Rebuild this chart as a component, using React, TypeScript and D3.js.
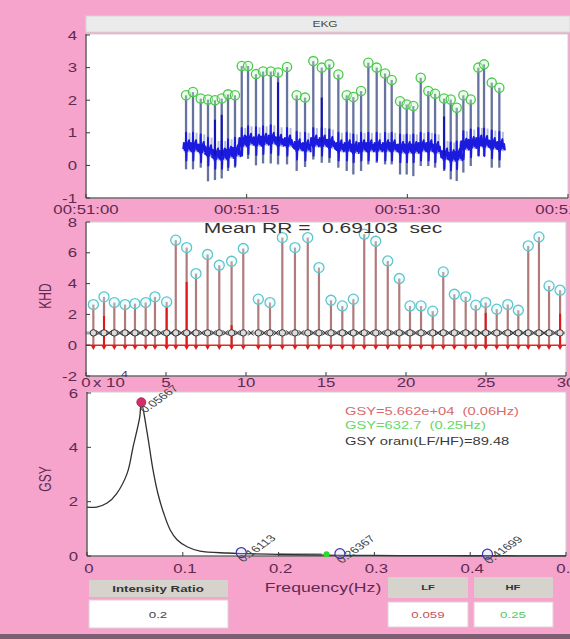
import React from "react";
import * as d3 from "d3";

// ---------- DATA ----------
// EKG: R-peak times (s after 00:51:00), R amplitudes, local baseline, S-dip depth
const ekgBeatTimes = [9.34,9.99,10.71,11.39,12.04,12.67,13.26,13.91,14.54,15.13,15.87,16.53,17.25,17.93,18.77,19.67,20.45,21.22,22.01,22.72,23.56,24.34,24.96,25.68,26.36,27.14,27.92,28.54,29.32,29.94,30.56,31.25,31.96,32.59,33.43,34.05,34.61,35.23,35.92,36.63,37.16,37.88,38.59];
const ekgRPeaks = [2.15,2.25,2.05,2.02,2.0,2.05,2.18,2.15,3.05,3.05,2.8,2.88,2.88,2.85,3.02,2.15,2.08,3.2,3.0,3.1,2.79,2.15,2.1,2.28,3.15,3.0,2.82,2.62,1.97,1.87,1.82,2.69,2.28,2.2,2.05,2.02,1.77,2.15,2.02,3.0,3.1,2.54,2.38];
const ekgBaseline = [0.55,0.55,0.5,0.4,0.3,0.3,0.35,0.4,0.7,0.75,0.72,0.75,0.78,0.72,0.7,0.58,0.55,0.7,0.7,0.65,0.55,0.55,0.5,0.55,0.55,0.55,0.55,0.55,0.5,0.5,0.5,0.55,0.55,0.5,0.3,0.25,0.28,0.6,0.65,0.7,0.68,0.62,0.58];
const ekgSDip = [-0.12,-0.12,-0.07,-0.49,-0.45,-0.4,-0.17,-0.07,0.29,0.2,0.0,0.06,0.06,0.03,0.03,-0.17,-0.05,0.18,0.08,0.08,-0.07,-0.17,-0.28,-0.17,0.03,0.08,0.03,0.03,-0.28,-0.28,-0.33,-0.02,-0.02,-0.07,-0.17,-0.43,-0.48,-0.22,-0.02,0.29,0.29,-0.07,-0.07];
const ekgDarkSpikeIdx = [4, 5, 13, 18, 34];
const ekgDarkSpikeTop = [1.4, 1.55, 2.55, 2.08, 1.5];
const ekgTickSecs = [0, 15, 30, 45];
const ekgTickLabels = ["00:51:00", "00:51:15", "00:51:30", "00:51:45"];
const ekgYTicks = [-1, 0, 1, 2, 3, 4];

// KHD (heart rate variability) stems
const khdTimes = [0.46,1.125,1.77,2.44,3.06,3.73,4.31,5.04,5.61,6.29,6.875,7.6,8.33,9.1,9.83,10.77,11.5,12.27,13.06,13.86,14.56,15.31,16.02,16.71,17.39,18.11,18.86,19.58,20.25,20.94,21.67,22.33,23.02,23.73,24.36,24.98,25.67,26.36,27.02,27.64,28.31,28.94,29.63];
const khdValues = [2.64,3.14,2.77,2.64,2.7,2.77,3.14,2.81,6.82,6.34,4.65,5.89,5.19,5.45,6.28,2.99,2.77,6.99,6.34,6.99,5.04,2.92,2.55,2.99,7.21,6.75,5.47,4.33,2.55,2.55,2.21,4.76,3.31,3.14,2.6,2.77,2.34,2.64,2.27,6.45,7.03,3.85,3.57];
const khdRedIdx = [1, 7, 9, 13, 35, 42];
const khdRedTop = [1.9, 2.45, 4.1, 1.3, 2.1, 2.05];
const khdRowLevel = 0.8;
const khdXTicks = [0, 5, 10, 15, 20, 25, 30];
const khdYTicks = [-2, 0, 2, 4, 6, 8];
const meanRR = "0.69103";

// GSY (power spectral density, x 10^4)
const gsyFreq = [0,0.01,0.021,0.031,0.042,0.048,0.055,0.0567,0.0625,0.069,0.074,0.08,0.087,0.094,0.105,0.118,0.146,0.16,0.2,0.25,0.3,0.35,0.4,0.45,0.5];
const gsyValue = [1.8,1.8,1.95,2.3,3.05,4.0,5.1,5.66,4.6,3.15,2.3,1.58,0.95,0.6,0.33,0.18,0.11,0.09,0.06,0.03,0.02,0.015,0.01,0.008,0.005];
const gsyPeak = { f: 0.0567, v: 5.66, label: "0.05667" };
const gsyMinFreqs = [0.161, 0.264, 0.418];
const gsyMinVals = [0.09, 0.05, 0.03];
const gsyMinLabels = ["0.16113", "0.26367", "0.41699"];
const gsyHFMark = { f: 0.25, v: 0.03 };
const gsyXTicks = [0, 0.1, 0.2, 0.3, 0.4, 0.5];
const gsyXTickLabels = ["0", "0.1", "0.2", "0.3", "0.4", "0.5"];
const gsyYTicks = [0, 2, 4, 6];
const gsyLegend = ["GSY=5.662e+04  (0.06Hz)", "GSY=632.7  (0.25Hz)", "GSY oranı(LF/HF)=89.48"];
const intensityRatio = "0.2";
const lfValue = "0.059";
const hfValue = "0.25";

// ---------- STYLE ----------
const PINK = "#f6a4cb";
const LBL = "#5e2a52";
const AX = "#3a3a3a";
const FONT = "'Liberation Sans', Arial, Helvetica, sans-serif";
const SX = 1.4;

function T(props: any) {
  const { x, y, size = 12, fill = LBL, anchor = "middle", rotate, weight, children } = props;
  return (
    <text
      transform={`translate(${x},${y}) scale(${SX},1)${rotate !== undefined ? ` rotate(${rotate})` : ""}`}
      fontSize={size}
      fill={fill}
      textAnchor={anchor}
      fontFamily={FONT}
      fontWeight={weight}
      style={{ whiteSpace: "pre" }}
    >
      {children}
    </text>
  );
}

export default function App() {
  const ekgX = d3.scaleLinear().domain([0, 45]).range([86, 568]);
  const ekgY = d3.scaleLinear().domain([-1, 4]).range([198, 35]);
  const khdX = d3.scaleLinear().domain([0, 30]).range([86, 566]);
  const khdY = d3.scaleLinear().domain([-2, 8]).range([376, 222]);
  const gsyX = d3.scaleLinear().domain([0, 0.5]).range([87, 566]);
  const gsyY = d3.scaleLinear().domain([0, 6]).range([556, 393]);

  // EKG baseline trace built per beat (P, Q, small R, S, T wave shape)
  const pts: [number, number][] = [];
  ekgBeatTimes.forEach((t, i) => {
    const b = ekgBaseline[i];
    const s = Math.max(ekgSDip[i], b - 0.4);
    pts.push([t - 0.26, b - 0.05], [t - 0.2, b + 0.14], [t - 0.14, b - 0.08], [t - 0.08, b + 0.06], [t - 0.03, b - 0.14], [t, b + 0.45],
      [t + 0.03, s], [t + 0.08, b + 0.05], [t + 0.14, b - 0.1], [t + 0.2, b + 0.14], [t + 0.28, b + 0.22], [t + 0.36, b - 0.06], [t + 0.44, b + 0.08], [t + 0.52, b - 0.12]);
  });
  const ekgLine = d3.line<[number, number]>().x(d => ekgX(d[0])).y(d => ekgY(d[1]));

  const gsyLine = d3.line<number>()
    .x((_, i) => gsyX(gsyFreq[i]))
    .y(d => gsyY(d))
    .curve(d3.curveCatmullRom.alpha(0.5));

  const panelBox = (x0: number, y0: number, x1: number, y1: number) => (
    <rect x={x0} y={y0} width={x1 - x0} height={y1 - y0} fill="#ffffff" stroke="#d0d0d0" strokeWidth={1} />
  );
  const axes = (x0: number, y0: number, x1: number, y1: number) => (
    <g stroke={AX} strokeWidth={1.1}>
      <line x1={x0} y1={y0} x2={x0} y2={y1} />
      <line x1={x0} y1={y1} x2={x1} y2={y1} />
    </g>
  );

  return (
    <svg width={570} height={639} style={{ position: "absolute", left: 0, top: 0 }}>
      <rect x={0} y={0} width={570} height={639} fill={PINK} />

      {/* ---------------- EKG ---------------- */}
      <rect x={86} y={16} width={484} height={16} fill="#ebebeb" stroke="#d6d6d6" />
      <T x={325} y={27} size={8.5} fill="#444">EKG</T>
      {panelBox(86, 34, 568, 198)}
      <g>
        {ekgBeatTimes.map((t, i) => (
          <line key={"g" + i} x1={ekgX(t + 0.33)} x2={ekgX(t + 0.33)}
            y1={ekgY(ekgBaseline[i] - 0.15)} y2={ekgY(ekgBaseline[i] + 0.45)}
            stroke="#b6bed8" strokeWidth={2} />
        ))}
        {ekgBeatTimes.map((t, i) => (
          <line key={"s" + i} x1={ekgX(t)} x2={ekgX(t)} y1={ekgY(ekgSDip[i])} y2={ekgY(ekgRPeaks[i])}
            stroke="#66729f" strokeWidth={2.3} />
        ))}
        <path d={ekgLine(pts) || ""} fill="none" stroke="#1b1be0" strokeWidth={2} strokeLinejoin="round" />
        {ekgDarkSpikeIdx.map((idx, k) => (
          <line key={"d" + k} x1={ekgX(ekgBeatTimes[idx])} x2={ekgX(ekgBeatTimes[idx])}
            y1={ekgY(ekgBaseline[idx])} y2={ekgY(ekgDarkSpikeTop[k])} stroke="#1414b8" strokeWidth={2} />
        ))}
        {ekgBeatTimes.map((t, i) => (
          <circle key={"c" + i} cx={ekgX(t)} cy={ekgY(ekgRPeaks[i])} r={4.6}
            fill="rgba(210,255,210,0.35)" stroke="#4cc84c" strokeWidth={1.3} />
        ))}
      </g>
      {axes(86, 34, 568, 198)}
      <g stroke={AX} strokeWidth={1}>
        {ekgYTicks.map(v => <line key={v} x1={86} x2={90} y1={ekgY(v)} y2={ekgY(v)} />)}
        {ekgTickSecs.map(s => <line key={s} x1={ekgX(s)} x2={ekgX(s)} y1={198} y2={194} />)}
      </g>
      {ekgYTicks.map(v => <T key={v} x={77} y={ekgY(v) + 4.5} anchor="end">{String(v)}</T>)}
      {ekgTickSecs.map((s, i) => <T key={s} x={ekgX(s)} y={214}>{ekgTickLabels[i]}</T>)}

      {/* ---------------- KHD ---------------- */}
      {panelBox(86, 222, 566, 376)}
      <g>
        {khdTimes.map((t, i) => (
          <line key={"st" + i} x1={khdX(t)} x2={khdX(t)} y1={khdY(0)} y2={khdY(khdValues[i])}
            stroke="#b07b7b" strokeWidth={2.2} />
        ))}
        {khdRedIdx.map((idx, k) => (
          <line key={"r" + k} x1={khdX(khdTimes[idx])} x2={khdX(khdTimes[idx])} y1={khdY(0)} y2={khdY(khdRedTop[k])}
            stroke="#e01818" strokeWidth={2} />
        ))}
        <line x1={khdX(khdTimes[0]) - 8} x2={khdX(khdTimes[khdTimes.length - 1]) + 5}
          y1={khdY(khdRowLevel)} y2={khdY(khdRowLevel)} stroke="#a4a4a4" strokeWidth={3} />
        {khdTimes.map((t, i) => (
          <circle key={"ro" + i} cx={khdX(t)} cy={khdY(khdRowLevel)} r={3.2} fill="#dcdcdc" stroke="#333" strokeWidth={1} />
        ))}
        {khdTimes.slice(0, -1).map((t, i) => {
          const mx = khdX((t + khdTimes[i + 1]) / 2);
          const my = khdY(khdRowLevel);
          return (
            <path key={"x" + i} d={`M${mx - 2.6},${my - 2.6}L${mx + 2.6},${my + 2.6}M${mx - 2.6},${my + 2.6}L${mx + 2.6},${my - 2.6}`}
              stroke="#333" strokeWidth={1} />
          );
        })}
        <line x1={86} x2={566} y1={khdY(0)} y2={khdY(0)} stroke="#e02828" strokeWidth={1.6} />
        {khdTimes.map((t, i) => {
          const cx = khdX(t), cy = khdY(-0.15);
          return <path key={"tr" + i} d={`M${cx - 2.5},${cy - 2}L${cx + 2.5},${cy - 2}L${cx},${cy + 2.5}Z`} fill="#e01818" />;
        })}
        {khdTimes.map((t, i) => (
          <circle key={"cy" + i} cx={khdX(t)} cy={khdY(khdValues[i])} r={5}
            fill="rgba(220,250,250,0.3)" stroke="#5cc6cc" strokeWidth={1.3} />
        ))}
      </g>
      {axes(86, 222, 566, 376)}
      <g stroke={AX} strokeWidth={1}>
        {khdYTicks.map(v => <line key={v} x1={86} x2={90} y1={khdY(v)} y2={khdY(v)} />)}
        {khdXTicks.map(s => <line key={s} x1={khdX(s)} x2={khdX(s)} y1={376} y2={372} />)}
      </g>
      <T x={323} y={233} size={15} fill="#333">{`Mean RR =  ${meanRR}  sec`}</T>
      {khdYTicks.map(v => <T key={v} x={77} y={khdY(v) + 4.5} anchor="end">{String(v)}</T>)}
      {khdXTicks.map(s => <T key={s} x={khdX(s)} y={387}>{String(s)}</T>)}
      <T x={51} y={296} rotate={-90}>KHD</T>

      {/* ---------------- GSY ---------------- */}
      {panelBox(87, 392, 566, 556)}
      <line x1={gsyX(0.2)} x2={gsyX(0.245)} y1={554.5} y2={554.5} stroke="#a8a8a8" strokeWidth={3} />
      <path d={gsyLine(gsyValue) || ""} fill="none" stroke="#303030" strokeWidth={1.3} />
      {axes(87, 392, 566, 556)}
      <g stroke={AX} strokeWidth={1}>
        {gsyYTicks.map(v => <line key={v} x1={87} x2={91} y1={gsyY(v)} y2={gsyY(v)} />)}
        {gsyXTicks.map(s => <line key={s} x1={gsyX(s)} x2={gsyX(s)} y1={556} y2={552} />)}
      </g>
      <circle cx={gsyX(gsyPeak.f)} cy={gsyY(gsyPeak.v)} r={4.5} fill="#d0306a" stroke="#a02050" strokeWidth={0.8} />
      <T x={gsyX(gsyPeak.f) + 4} y={gsyY(gsyPeak.v) + 11} size={9.5} fill="#444" anchor="start" rotate={-45}>{gsyPeak.label}</T>
      <circle cx={gsyX(gsyHFMark.f)} cy={gsyY(gsyHFMark.v) - 1} r={3} fill="#2ed82e" />
      {gsyMinFreqs.map((f, i) => (
        <g key={"m" + i}>
          <circle cx={gsyX(f)} cy={gsyY(gsyMinVals[i]) - 1} r={5} fill="rgba(200,200,255,0.25)" stroke="#3a34a0" strokeWidth={1.2} />
          <T x={gsyX(f) + 2} y={gsyY(gsyMinVals[i]) + 9} size={9.5} fill="#444" anchor="start" rotate={-45}>{gsyMinLabels[i]}</T>
        </g>
      ))}
      <T x={345} y={415} size={10.5} fill="#d86a6a" anchor="start">{gsyLegend[0]}</T>
      <T x={345} y={429} size={10.5} fill="#66d866" anchor="start">{gsyLegend[1]}</T>
      <T x={345} y={445} size={10.5} fill="#3a3a3a" anchor="start">{gsyLegend[2]}</T>
      {gsyYTicks.map(v => <T key={v} x={78} y={gsyY(v) + 4.5} anchor="end">{String(v)}</T>)}
      {gsyXTicks.map((s, i) => <T key={s} x={gsyX(s) + 2} y={573}>{gsyXTickLabels[i]}</T>)}
      <T x={93} y={387} anchor="start">x 10</T>
      <T x={121} y={377} size={9} anchor="start">4</T>
      <T x={51} y={479} rotate={-90}>GSY</T>
      <T x={323} y={592} size={12.6}>Frequency(Hz)</T>

      {/* ---------------- bottom boxes ---------------- */}
      <rect x={89} y={580} width={139} height={17} fill="#d6d2cc" />
      <T x={158} y={592} size={9.5} fill="#333" weight="bold">Intensity Ratio</T>
      <rect x={89} y={600} width={139} height={28} fill="#ffffff" stroke="#e0d0d8" />
      <T x={158} y={618} size={9.5} fill="#444">{intensityRatio}</T>

      <rect x={388} y={577} width={80} height={21} fill="#d6d2cc" />
      <T x={428} y={590} size={8} fill="#333" weight="bold">LF</T>
      <rect x={388} y={602} width={80} height={25} fill="#ffffff" stroke="#e0d0d8" />
      <T x={428} y={618} size={9.5} fill="#c85060">{lfValue}</T>

      <rect x={474} y={577} width={79} height={21} fill="#d6d2cc" />
      <T x={513} y={590} size={8} fill="#333" weight="bold">HF</T>
      <rect x={474} y={602} width={79} height={25} fill="#ffffff" stroke="#e0d0d8" />
      <T x={513} y={618} size={9.5} fill="#5cc85c">{hfValue}</T>

      <rect x={0} y={634} width={570} height={5} fill="#7e5e72" />
    </svg>
  );
}
